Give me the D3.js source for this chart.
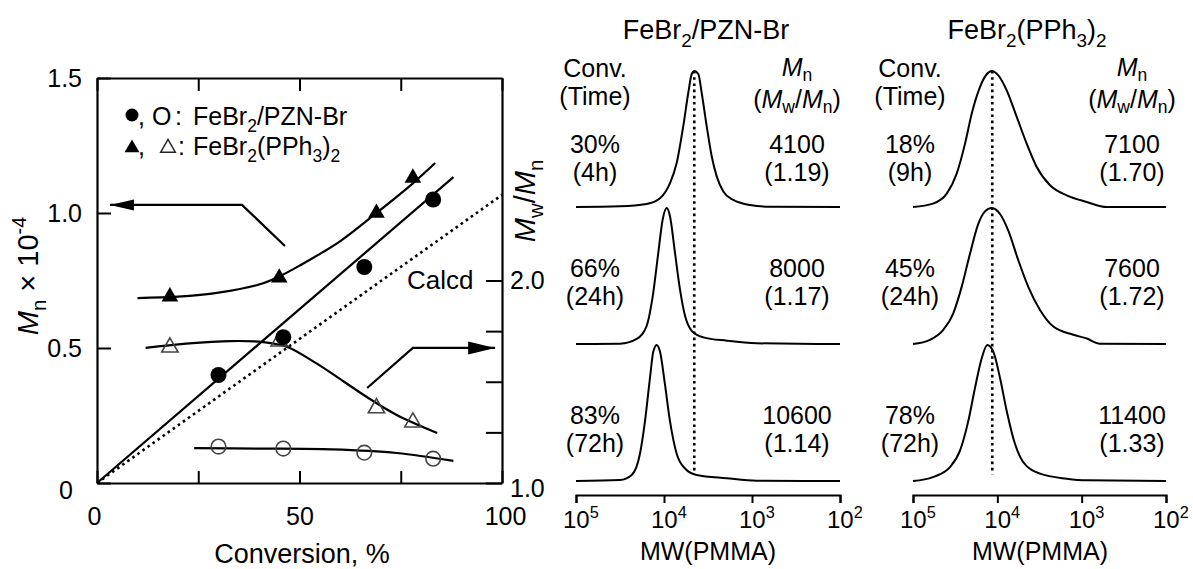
<!DOCTYPE html>
<html><head><meta charset="utf-8">
<script src="https://cdn.jsdelivr.net/npm/d3@7"></script>
<style>
body{margin:0;background:#fff;}
svg text{font-family:"Liberation Sans",Arial,Helvetica,sans-serif;fill:#000;}
</style></head><body>
<svg id="c" width="1193" height="569"></svg>
<script>
// ---------- Left chart data ----------
const convTicks = [0, 25, 50, 75, 100];
const convLabels = [0, 50, 100];
const mnTicks = [0, 0.5, 1.0, 1.5];
const pdiTicks = [1.0, 1.25, 1.5, 1.75, 2.0];
const pdiLabels = [1.0, 2.0];

const pznConv = [30, 46, 66, 83];
const pznMn = [0.40, 0.54, 0.80, 1.05];
const pznPdi = [1.18, 1.17, 1.15, 1.12];
const pphConv = [18, 45, 69, 78];
const pphMn = [0.69, 0.76, 1.00, 1.13];
const pphPdi = [1.67, 1.70, 1.37, 1.30];

const pznMnFitX = [0, 88];
const pznMnFitY = [0, 1.133];
const calcdX = [0, 100];
const calcdY = [0, 1.067];
const pphMnFitX = [10, 20, 30, 40, 45, 50, 60, 69, 78, 83.5];
const pphMnFitY = [0.685, 0.69, 0.705, 0.735, 0.765, 0.805, 0.895, 1.0, 1.11, 1.185];
const pphPdiFitX = [12, 22, 33, 41, 47, 54, 61, 67, 74, 84];
const pphPdiFitY = [1.667, 1.688, 1.701, 1.696, 1.672, 1.593, 1.50, 1.42, 1.336, 1.247];
const pznPdiFitX = [24, 40, 58, 74, 88];
const pznPdiFitY = [1.172, 1.170, 1.166, 1.148, 1.109];

const arrowMnX = [46.4, 35.8, 3.2];
const arrowMnY = [0.878, 1.03, 1.03];
const arrowPdiX = [66.7, 78.0, 98.3];
const arrowPdiY = [1.469, 1.667, 1.667];

// ---------- GPC traces (log10 MW, normalized intensity) ----------
const mwTicks = [5, 4, 3, 2];
const pznLogMW1 = [5.0, 4.50, 4.197, 4.045, 3.932, 3.856, 3.781, 3.724, 3.685, 3.656, 3.610, 3.572, 3.515, 3.458, 3.401, 3.326, 3.213, 3.023, 2.795, 2.0];
const pznInt1   = [0, 0.005, 0.022, 0.064, 0.175, 0.323, 0.595, 0.84, 0.978, 1.0, 0.978, 0.84, 0.595, 0.373, 0.225, 0.114, 0.052, 0.015, 0.002, 0];
const pznLogMW2 = [5.0, 4.50, 4.310, 4.197, 4.122, 4.065, 4.015, 3.969, 3.932, 3.875, 3.818, 3.761, 3.685, 3.553, 3.287, 2.947, 2.0];
const pznInt2   = [0, 0.002, 0.037, 0.134, 0.378, 0.67, 0.915, 1.0, 0.94, 0.67, 0.40, 0.207, 0.097, 0.049, 0.024, 0.005, 0];
const pznLogMW3 = [5.0, 4.50, 4.367, 4.273, 4.216, 4.159, 4.122, 4.083, 4.045, 3.989, 3.932, 3.856, 3.761, 3.628, 3.287, 2.947, 2.0];
const pznInt3   = [0, 0.007, 0.044, 0.2, 0.44, 0.76, 0.95, 1.0, 0.95, 0.71, 0.44, 0.2, 0.092, 0.044, 0.02, 0.002, 0];
const pphLogMW1 = [5.0, 4.763, 4.600, 4.482, 4.383, 4.304, 4.206, 4.126, 4.067, 3.988, 3.889, 3.770, 3.652, 3.533, 3.375, 3.177, 2.940, 2.703, 2.0];
const pphInt1   = [0, 0.025, 0.098, 0.245, 0.466, 0.686, 0.882, 0.976, 1.0, 0.968, 0.858, 0.662, 0.466, 0.294, 0.16, 0.086, 0.037, 0, 0];
const pphLogMW2 = [5.0, 4.798, 4.641, 4.522, 4.423, 4.324, 4.226, 4.146, 4.067, 3.968, 3.870, 3.751, 3.633, 3.494, 3.336, 3.099, 2.940, 2.783, 2.0];
const pphInt2   = [0, 0.031, 0.104, 0.226, 0.42, 0.664, 0.883, 0.975, 1.0, 0.956, 0.834, 0.615, 0.42, 0.25, 0.128, 0.068, 0.040, 0.002, 0];
const pphLogMW3 = [5.0, 4.763, 4.561, 4.443, 4.344, 4.265, 4.185, 4.119, 4.048, 3.968, 3.889, 3.790, 3.692, 3.494, 3.177, 2.940, 2.0];
const pphInt3   = [0, 0.029, 0.102, 0.223, 0.442, 0.684, 0.903, 1.0, 0.951, 0.757, 0.515, 0.272, 0.138, 0.054, 0.017, 0.005, 0];
const pznRefLogMW = 3.656;
const pphRefLogMW = 4.06;

const convPZN = ["30%", "66%", "83%"];
const timePZN = ["(4h)", "(24h)", "(72h)"];
const mnPZN = ["4100", "8000", "10600"];
const pdiPZN = ["(1.19)", "(1.17)", "(1.14)"];
const convPPh = ["18%", "45%", "78%"];
const timePPh = ["(9h)", "(24h)", "(72h)"];
const mnPPh = ["7100", "7600", "11400"];
const pdiPPh = ["(1.70)", "(1.72)", "(1.33)"];

// ---------- helpers ----------
const svg = d3.select("#c");
function richLines(g, x, y, lines, fs, anchor, lh, subShift) {
  const t = g.append("text").attr("x", x).attr("y", y).attr("font-size", fs)
    .attr("text-anchor", anchor || "start");
  const ss = subShift == null ? 0.28 : subShift;
  let shift = 0;
  lines.forEach((segs, li) => {
    segs.forEach((s, si) => {
      const ts = t.append("tspan").text(s.t);
      let target = 0, size = fs;
      if (s.sub) { target = ss * fs; size = 0.7 * fs; }
      if (s.sup) { target = -0.42 * fs; size = 0.68 * fs; }
      ts.attr("font-size", size);
      let dy = target - shift;
      if (si === 0 && li > 0) { ts.attr("x", x); dy += lh; }
      if (dy !== 0) ts.attr("dy", dy);
      shift = target;
      if (s.i) ts.attr("font-style", "italic");
    });
  });
  return t;
}
const rich = (g, x, y, segs, fs, anchor, ss) => richLines(g, x, y, [segs], fs, anchor, 0, ss);
const zip = (a, b) => a.map((v, i) => [v, b[i]]);

// ---------- Left chart ----------
const x = d3.scaleLinear().domain([0, 100]).range([97, 502]);
const yMn = d3.scaleLinear().domain([0, 1.5]).range([483, 78]);
const yPdi = d3.scaleLinear().domain([1, 3]).range([483, 78]);
const L = svg.append("g");

const axB = L.append("g").attr("transform", "translate(0,483)")
  .call(d3.axisBottom(x).tickValues(convTicks).tickSizeInner(-12).tickSizeOuter(0).tickPadding(24)
    .tickFormat(d => convLabels.includes(d) ? d : ""));
const axT = L.append("g").attr("transform", "translate(0,78)")
  .call(d3.axisTop(x).tickValues(convTicks).tickSizeInner(-13).tickSizeOuter(0).tickFormat(""));
const axL = L.append("g").attr("transform", "translate(97,0)")
  .call(d3.axisLeft(yMn).tickValues(mnTicks).tickSizeInner(-14).tickSizeOuter(0).tickPadding(15)
    .tickFormat(d => d === 0 ? "0" : d.toFixed(1)));
const axR = L.append("g").attr("transform", "translate(502,0)")
  .call(d3.axisRight(yPdi).tickValues(pdiTicks).tickSizeInner(-16).tickSizeOuter(0).tickPadding(8)
    .tickFormat(d => pdiLabels.includes(d) ? d.toFixed(1) : ""));
[axB, axT, axL, axR].forEach(a => {
  a.selectAll("path.domain").attr("stroke", "#000").attr("stroke-width", 2.2);
  a.selectAll(".tick line").attr("stroke", "#000").attr("stroke-width", 2);
  a.selectAll("text").attr("font-size", 25).attr("fill", "#000")
    .attr("font-family", "'Liberation Sans',Arial,sans-serif");
});
axL.selectAll(".tick").filter(d => d === 0).select("text").attr("dx", -9).attr("dy", "0.62em");
axB.selectAll(".tick").filter(d => d === 0).select("text").attr("dx", -3);
axB.selectAll(".tick").filter(d => d === 100).select("text").attr("dx", 3);
axR.selectAll(".tick").filter(d => d === 1).select("text").attr("dy", "0.55em");

// axis titles
L.append("text").attr("x", 302).attr("y", 563).attr("text-anchor", "middle")
  .attr("font-size", 27).text("Conversion, %");
rich(L, 0, 0, [{t: "M", i: true}, {t: "n", sub: true}, {t: " × 10"}, {t: "-4", sup: true}], 29, "middle")
  .attr("transform", "translate(38,276) rotate(-90)");
rich(L, 0, 0, [{t: "M", i: true}, {t: "w", sub: true}, {t: "/"}, {t: "M", i: true}, {t: "n", sub: true}], 29, "middle")
  .attr("transform", "translate(535,201) rotate(-90)");

// fit lines
const lineMn = d3.line().x(d => x(d[0])).y(d => yMn(d[1]));
const smoothMn = d3.line().x(d => x(d[0])).y(d => yMn(d[1])).curve(d3.curveCatmullRom.alpha(0.5));
const smoothPdi = d3.line().x(d => x(d[0])).y(d => yPdi(d[1])).curve(d3.curveCatmullRom.alpha(0.5));
L.append("path").attr("d", lineMn(zip(calcdX, calcdY))).attr("fill", "none")
  .attr("stroke", "#000").attr("stroke-width", 2.6).attr("stroke-dasharray", "2.6,3.6");
L.append("path").attr("d", lineMn(zip(pznMnFitX, pznMnFitY))).attr("fill", "none")
  .attr("stroke", "#000").attr("stroke-width", 2.2);
L.append("path").attr("d", smoothMn(zip(pphMnFitX, pphMnFitY))).attr("fill", "none")
  .attr("stroke", "#000").attr("stroke-width", 2.2);
L.append("path").attr("d", smoothPdi(zip(pphPdiFitX, pphPdiFitY))).attr("fill", "none")
  .attr("stroke", "#000").attr("stroke-width", 2.2);
L.append("path").attr("d", smoothPdi(zip(pznPdiFitX, pznPdiFitY))).attr("fill", "none")
  .attr("stroke", "#000").attr("stroke-width", 2.2);

// arrows
function arrow(path, hl, hw) {
  L.append("path").attr("d", d3.line()(path)).attr("fill", "none").attr("stroke", "#000").attr("stroke-width", 2.2);
  const [tx, ty] = path[path.length - 1], [px, py] = path[path.length - 2];
  const ang = Math.atan2(ty - py, tx - px);
  const bx = tx - hl * Math.cos(ang), by = ty - hl * Math.sin(ang);
  const nx = -Math.sin(ang) * hw, ny = Math.cos(ang) * hw;
  L.append("path").attr("d", `M${tx},${ty}L${bx + nx},${by + ny}L${bx - nx},${by - ny}Z`).attr("fill", "#000");
}
arrow(arrowMnX.map((v, i) => [x(v), yMn(arrowMnY[i])]), 24, 5.5);
arrow(arrowPdiX.map((v, i) => [x(v), yPdi(arrowPdiY[i])]), 27, 6.5);

// markers
const triFilled = d3.symbol().type(d3.symbolTriangle).size(120);
const triOpen = d3.symbol().type(d3.symbolTriangle).size(115);
L.selectAll(".oc").data(zip(pznConv, pznPdi)).join("circle")
  .attr("cx", d => x(d[0])).attr("cy", d => yPdi(d[1])).attr("r", 7.3)
  .attr("fill", "none").attr("stroke", "#444").attr("stroke-width", 1.6);
L.selectAll(".ot").data(zip(pphConv, pphPdi)).join("path")
  .attr("d", triOpen).attr("transform", d => `translate(${x(d[0])},${yPdi(d[1])})`)
  .attr("fill", "none").attr("stroke", "#444").attr("stroke-width", 1.6);
L.selectAll(".fc").data(zip(pznConv, pznMn)).join("circle")
  .attr("cx", d => x(d[0])).attr("cy", d => yMn(d[1])).attr("r", 8).attr("fill", "#000");
L.selectAll(".ft").data(zip(pphConv, pphMn)).join("path")
  .attr("d", triFilled).attr("transform", d => `translate(${x(d[0])},${yMn(d[1])})`).attr("fill", "#000");

// Calcd label
L.append("text").attr("x", 407).attr("y", 289).attr("font-size", 26).text("Calcd");

// legend
L.append("circle").attr("cx", 132).attr("cy", 115).attr("r", 6.5).attr("fill", "#000");
const lg1 = L.append("text").attr("y", 125).attr("font-size", 25);
lg1.append("tspan").attr("x", 138).text(",");
lg1.append("tspan").attr("x", 152).text("O");
lg1.append("tspan").attr("x", 175).text(":");
rich(L, 193, 125, [{t: "FeBr"}, {t: "2", sub: true}, {t: "/PZN-Br"}], 25);
L.append("path").attr("d", triFilled.size(95)()).attr("transform", "translate(132,148)").attr("fill", "#000");
L.append("text").attr("x", 138).attr("y", 155).attr("font-size", 25).text(",");
L.append("path").attr("d", triOpen.size(95)()).attr("transform", "translate(168,148)")
  .attr("fill", "none").attr("stroke", "#222").attr("stroke-width", 1.4);
L.append("text").attr("x", 178).attr("y", 155).attr("font-size", 25).text(":");
rich(L, 193, 155, [{t: "FeBr"}, {t: "2", sub: true}, {t: "(PPh"}, {t: "3", sub: true}, {t: ")"}, {t: "2", sub: true}], 25);

// ---------- GPC panels ----------
const baselines = [207, 344, 481];
const traceH = 136;
const panels = [
  {x0: 576, x1: 840, traces: [[pznLogMW1, pznInt1], [pznLogMW2, pznInt2], [pznLogMW3, pznInt3]], ref: pznRefLogMW,
   conv: convPZN, time: timePZN, mn: mnPZN, pdi: pdiPZN, lc: 595, rc: 797, tc: 706, ac: 708,
   title: [{t: "FeBr"}, {t: "2", sub: true}, {t: "/PZN-Br"}]},
  {x0: 913, x1: 1166, traces: [[pphLogMW1, pphInt1], [pphLogMW2, pphInt2], [pphLogMW3, pphInt3]], ref: pphRefLogMW,
   conv: convPPh, time: timePPh, mn: mnPPh, pdi: pdiPPh, lc: 910, rc: 1132, tc: 1027, ac: 1040,
   title: [{t: "FeBr"}, {t: "2", sub: true}, {t: "(PPh"}, {t: "3", sub: true}, {t: ")"}, {t: "2", sub: true}]}
];
panels.forEach(p => {
  const g = svg.append("g");
  const xs = d3.scaleLinear().domain([5, 2]).range([p.x0, p.x1]);
  const ys = baselines.map(b => d3.scaleLinear().domain([0, 1]).range([b, b - traceH]));
  p.traces.forEach((tr, i) => {
    const ln = d3.line().x(d => xs(d[0])).y(d => ys[i](d[1])).curve(d3.curveMonotoneX);
    g.append("path").attr("d", ln(zip(tr[0], tr[1]))).attr("fill", "none")
      .attr("stroke", "#000").attr("stroke-width", 2);
  });
  g.append("line").attr("x1", xs(p.ref)).attr("x2", xs(p.ref))
    .attr("y1", ys[0](1)).attr("y2", ys[2](0.05))
    .attr("stroke", "#000").attr("stroke-width", 2.6).attr("stroke-dasharray", "2.6,3.6");
  const ax = g.append("g").attr("transform", "translate(0,495)")
    .call(d3.axisBottom(xs).tickValues(mwTicks).tickSize(8).tickFormat(""));
  ax.selectAll("path.domain").attr("stroke", "#000").attr("stroke-width", 2);
  ax.selectAll(".tick line").attr("stroke", "#000").attr("stroke-width", 2);
  mwTicks.forEach(t => {
    rich(g, xs(t) - 13, 528, [{t: "10"}, {t: String(t), sup: true}], 24);
  });
  g.append("text").attr("x", p.ac).attr("y", 560).attr("text-anchor", "middle").attr("font-size", 25).text("MW(PMMA)");
  rich(g, p.tc, 39, p.title, 27, "middle");
  richLines(g, p.lc, 77, [[{t: "Conv."}], [{t: "(Time)"}]], 25, "middle", 28);
  rich(g, p.rc, 76, [{t: "M", i: true}, {t: "n", sub: true}], 25, "middle", 0.2);
  rich(g, p.rc, 108, [{t: "("}, {t: "M", i: true}, {t: "w", sub: true}, {t: "/"}, {t: "M", i: true}, {t: "n", sub: true}, {t: ")"}], 25, "middle", 0.2);
  const rowY = [152.5, 276.5, 423.5];
  rowY.forEach((ry, i) => {
    richLines(g, p.lc, ry, [[{t: p.conv[i]}], [{t: p.time[i]}]], 25, "middle", 28);
    richLines(g, p.rc, ry, [[{t: p.mn[i]}], [{t: p.pdi[i]}]], 25, "middle", 28);
  });
});
</script>
</body></html>
